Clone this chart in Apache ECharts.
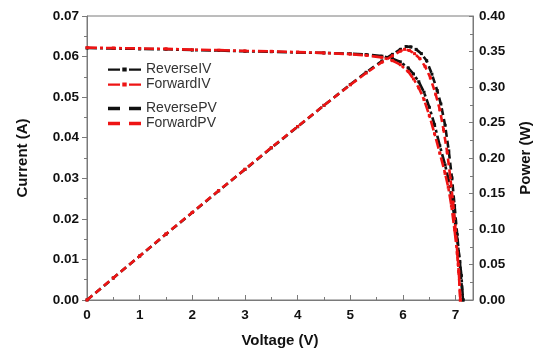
<!DOCTYPE html>
<html>
<head>
<meta charset="utf-8">
<script src="https://cdn.jsdelivr.net/npm/echarts@6/dist/echarts.min.js"></script>
<style>
  html, body { margin: 0; padding: 0; background: #fff; }
  #chart { width: 533px; height: 353px; }
</style>
</head>
<body>
<div id="chart"></div>
<script>
// Current–voltage and power–voltage sweeps of the cell, reverse and forward scans.
const reverseIV_V = [0, 0.5, 1, 1.5, 2, 2.5, 3, 3.5, 4, 4.5, 5, 5.3, 5.6, 5.8, 5.95, 6.1, 6.2, 6.3, 6.4, 6.5, 6.6, 6.7, 6.8, 6.86, 6.92, 6.98, 7.03, 7.08, 7.11, 7.14];
const reverseIV_I = [0.0621, 0.0620, 0.0619, 0.0618, 0.0616, 0.0615, 0.0613, 0.0612, 0.0610, 0.0609, 0.0607, 0.0605, 0.0601, 0.0595, 0.0587, 0.0572, 0.0557, 0.0538, 0.0512, 0.0475, 0.0432, 0.0380, 0.0333, 0.0300, 0.0255, 0.0200, 0.0150, 0.0095, 0.0060, 0.0];

const forwardIV_V = [0, 0.5, 1, 1.5, 2, 2.5, 3, 3.5, 4, 4.5, 5, 5.3, 5.6, 5.8, 5.95, 6.1, 6.2, 6.3, 6.4, 6.5, 6.6, 6.7, 6.8, 6.86, 6.92, 6.98, 7.03, 7.06, 7.09];
const forwardIV_I = [0.0622, 0.0621, 0.0620, 0.0619, 0.0617, 0.0616, 0.0614, 0.0613, 0.0611, 0.0609, 0.0606, 0.0603, 0.0598, 0.0590, 0.0580, 0.0563, 0.0545, 0.0523, 0.0494, 0.0455, 0.0410, 0.0362, 0.0312, 0.0278, 0.0232, 0.0172, 0.0115, 0.0070, 0.0];

const reversePV_V = [0, 0.5, 1, 1.5, 2, 2.5, 3, 3.5, 4, 4.5, 5, 5.3, 5.6, 5.8, 5.95, 6.06, 6.15, 6.25, 6.35, 6.45, 6.55, 6.65, 6.72, 6.8, 6.87, 6.93, 6.98, 7.03, 7.08, 7.14];
const reversePV_P = [0, 0.0310, 0.0619, 0.0927, 0.1232, 0.1538, 0.1839, 0.2142, 0.2440, 0.2741, 0.3035, 0.3207, 0.3366, 0.3460, 0.3530, 0.3570, 0.3565, 0.3530, 0.3470, 0.3370, 0.3180, 0.2950, 0.2760, 0.2460, 0.2100, 0.1720, 0.1330, 0.0920, 0.0500, 0.0];

const forwardPV_V = [0, 0.5, 1, 1.5, 2, 2.5, 3, 3.5, 4, 4.5, 5, 5.3, 5.6, 5.8, 5.95, 6.03, 6.12, 6.22, 6.32, 6.42, 6.52, 6.62, 6.7, 6.77, 6.84, 6.9, 6.95, 7.0, 7.05, 7.09];
const forwardPV_P = [0, 0.0311, 0.0620, 0.0929, 0.1234, 0.1540, 0.1842, 0.2146, 0.2444, 0.2741, 0.3030, 0.3196, 0.3349, 0.3440, 0.3505, 0.3530, 0.3515, 0.3470, 0.3400, 0.3290, 0.3130, 0.2900, 0.2680, 0.2400, 0.2080, 0.1720, 0.1380, 0.0980, 0.0500, 0.0];

const seriesNames = ['ReverseIV', 'ForwardIV', 'ReversePV', 'ForwardPV'];

const BLACK = '#111111';
const RED = '#ee1414';
const AXIS_GRAY = '#7a7a7a';
const FONT = 'Liberation Sans, Arial, sans-serif';

function pairs(xs, ys) { return xs.map((x, i) => [x, ys[i]]); }

const tickLabel = {
  color: '#111', fontFamily: FONT, fontWeight: 'bold', fontSize: 13.5
};
const axisName = {
  color: '#111', fontFamily: FONT, fontWeight: 'bold', fontSize: 15
};

const ivIcon = 'path://M0,1h12v2.2h-12z M14.3,0h4.4v4h-4.4z M21,1h12v2.2h-12z';
const pvIcon = 'path://M0,0h12v3.4h-12z M21,0h12v3.4h-12z';

const chart = echarts.init(document.getElementById('chart'), null, { renderer: 'canvas' });

chart.setOption({
  animation: false,
  backgroundColor: '#fff',
  grid: {
    left: 87, right: 60, top: 16, bottom: 53,
    containLabel: false, outerBoundsMode: 'none',
    show: true, borderColor: AXIS_GRAY, borderWidth: 1, backgroundColor: 'transparent'
  },
  legend: [
    {
      data: [seriesNames[0], seriesNames[1]],
      orient: 'vertical', left: 103, top: 57,
      itemWidth: 33, itemHeight: 4, itemGap: 0,
      icon: ivIcon,
      textStyle: { color: '#333', fontFamily: FONT, fontSize: 14, lineHeight: 15 }
    },
    {
      data: [seriesNames[2], seriesNames[3]],
      orient: 'vertical', left: 103, top: 96,
      itemWidth: 33, itemHeight: 3.4, itemGap: 0,
      icon: pvIcon,
      textStyle: { color: '#333', fontFamily: FONT, fontSize: 14, lineHeight: 15 }
    }
  ],
  xAxis: {
    type: 'value', min: 0, max: 7.33, interval: 1,
    name: 'Voltage (V)', nameLocation: 'middle', nameGap: 33, nameTextStyle: axisName,
    axisLine: { show: true, lineStyle: { color: AXIS_GRAY, width: 1 } },
    axisTick: { show: true, inside: true, length: 5, lineStyle: { color: AXIS_GRAY } },
    minorTick: { show: true, splitNumber: 2, length: 3, lineStyle: { color: AXIS_GRAY } },
    axisLabel: { ...tickLabel, margin: 8, showMaxLabel: false,
      formatter: v => (Math.abs(v - Math.round(v)) < 1e-6 ? String(Math.round(v)) : '') },
    splitLine: { show: false }
  },
  yAxis: [
    {
      type: 'value', min: 0, max: 0.07, interval: 0.01, position: 'left',
      name: 'Current (A)', nameLocation: 'middle', nameGap: 57, nameRotate: 90, nameTextStyle: axisName,
      axisLine: { show: true, lineStyle: { color: AXIS_GRAY, width: 1 } },
      axisTick: { show: true, inside: false, length: 5, lineStyle: { color: AXIS_GRAY } },
      minorTick: { show: true, splitNumber: 2, length: 3, lineStyle: { color: AXIS_GRAY } },
      axisLabel: { ...tickLabel, margin: 8, formatter: v => v.toFixed(2) },
      splitLine: { show: false }
    },
    {
      type: 'value', min: 0, max: 0.4, interval: 0.05, position: 'right',
      name: 'Power (W)', nameLocation: 'middle', nameGap: 45, nameRotate: 90, nameTextStyle: axisName,
      axisLine: { show: true, lineStyle: { color: AXIS_GRAY, width: 1 } },
      axisTick: { show: true, inside: true, length: 4, lineStyle: { color: AXIS_GRAY } },
      minorTick: { show: true, splitNumber: 2, length: 3, lineStyle: { color: AXIS_GRAY } },
      axisLabel: { ...tickLabel, margin: 6, formatter: v => v.toFixed(2) },
      splitLine: { show: false }
    }
  ],
  series: [
    {
      name: seriesNames[0], type: 'line', yAxisIndex: 0,
      data: pairs(reverseIV_V, reverseIV_I),
      symbol: 'rect', symbolSize: 3, showSymbol: true,
      itemStyle: { color: BLACK },
      lineStyle: { color: BLACK, width: 2.6, type: [10, 3, 3, 3] },
      z: 2
    },
    {
      name: seriesNames[1], type: 'line', yAxisIndex: 0,
      data: pairs(forwardIV_V, forwardIV_I),
      symbol: 'rect', symbolSize: 3, showSymbol: true,
      itemStyle: { color: RED },
      lineStyle: { color: RED, width: 2.6, type: [10, 3, 3, 3] },
      z: 3
    },
    {
      name: seriesNames[2], type: 'line', yAxisIndex: 1,
      data: pairs(reversePV_V, reversePV_P),
      symbol: 'rect', symbolSize: 3, showSymbol: true,
      itemStyle: { color: BLACK },
      lineStyle: { color: BLACK, width: 2.6, type: [7, 4] },
      z: 2
    },
    {
      name: seriesNames[3], type: 'line', yAxisIndex: 1,
      data: pairs(forwardPV_V, forwardPV_P),
      symbol: 'rect', symbolSize: 3, showSymbol: true,
      itemStyle: { color: RED },
      lineStyle: { color: RED, width: 2.6, type: [7, 4] },
      z: 3
    }
  ]
});
</script>
</body>
</html>
